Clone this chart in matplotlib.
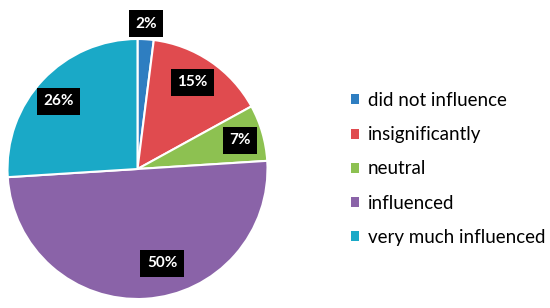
import matplotlib
matplotlib.use("Agg")
import matplotlib.pyplot as plt
from matplotlib.patches import Patch
import numpy as np

categories = ["did not influence", "insignificantly", "neutral", "influenced", "very much influenced"]
values = [2, 15, 7, 50, 26]
colors = ["#2E7EC1", "#E04B4F", "#8DC151", "#8A63A8", "#1AA9C7"]

# label layout (angle in degrees, radius as fraction of pie radius)
label_angles = [86.7, 57.5, 15.6, -75.4, 139.5]
label_radii = [1.12, 0.79, 0.82, 0.75, 0.80]

plt.rcParams['font.family'] = ['Lato', 'DejaVu Sans']

fig = plt.figure(figsize=(5.5, 3.08), dpi=100)
ax = fig.add_axes([7.5/550, 9/308, 260/550, 260/308])
wedges, _ = ax.pie(values, colors=colors, startangle=90, counterclock=False,
                   radius=1.0, wedgeprops=dict(edgecolor="white", linewidth=1.5))
ax.set_xlim(-1, 1)
ax.set_ylim(-1, 1)
ax.set_aspect("equal")
ax.axis("off")

for v, a, r in zip(values, label_angles, label_radii):
    t = np.deg2rad(a)
    ax.text(r*np.cos(t), r*np.sin(t), f"{v}%", ha="center", va="center",
            color="white", fontsize=11, fontweight="bold", clip_on=False,
            bbox=dict(boxstyle="square,pad=0.42", facecolor="black", edgecolor="none"))

handles = [Patch(facecolor=c, edgecolor="none") for c in colors]
fig.legend(handles, categories, loc="upper left", bbox_to_anchor=(351/550, 1 - 92/308),
           frameon=False, fontsize=13.5, handlelength=0.45, handleheight=0.45,
           handletextpad=0.45, labelspacing=0.92, borderaxespad=0, borderpad=0)

fig.savefig("out.png", dpi=100)
